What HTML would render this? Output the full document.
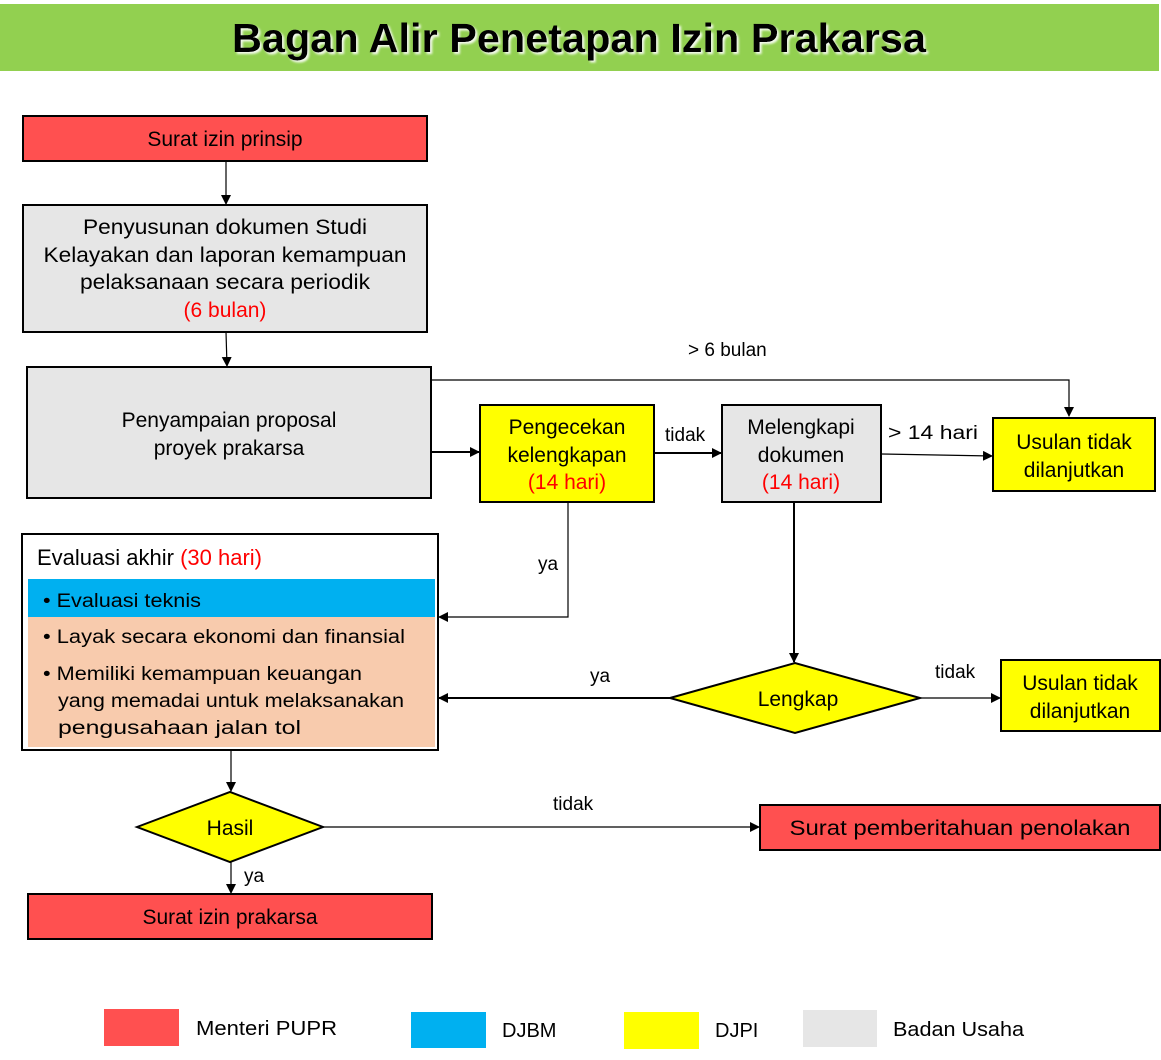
<!DOCTYPE html>
<html><head><meta charset="utf-8"><style>
body{margin:0;background:#fff;}
svg{display:block;font-family:"Liberation Sans",Arial,sans-serif;}
</style></head><body>
<svg width="1161" height="1060" viewBox="0 0 1161 1060" xmlns="http://www.w3.org/2000/svg">
<defs>
<marker id="a" markerWidth="10" markerHeight="10" refX="9" refY="5" orient="auto" markerUnits="userSpaceOnUse"><path d="M0,0 L10,5 L0,10 z" fill="#000"/></marker>
<filter id="sh"><feDropShadow dx="2" dy="2" stdDeviation="1" flood-color="#fff" flood-opacity="0.9"/></filter>
</defs>
<rect x="0" y="4" width="1159" height="67" fill="#92d050"/>
<text x="232" y="52" textLength="694" lengthAdjust="spacingAndGlyphs" font-size="41" font-weight="bold" fill="#000" filter="url(#sh)">Bagan Alir Penetapan Izin Prakarsa</text>

<g stroke="#000" stroke-width="2">
<rect x="23" y="116" width="404" height="45" fill="#ff5050"/>
<rect x="23" y="205" width="404" height="127" fill="#e6e6e6"/>
<rect x="27" y="367" width="404" height="131" fill="#e6e6e6"/>
<rect x="480" y="405" width="174" height="97" fill="#ffff00"/>
<rect x="722" y="405" width="159" height="97" fill="#e6e6e6"/>
<rect x="993" y="418" width="162" height="73" fill="#ffff00"/>
<rect x="22" y="534" width="416" height="216" fill="#fff"/>
<rect x="1001" y="660" width="159" height="71" fill="#ffff00"/>
<rect x="760" y="805" width="400" height="45" fill="#ff5050"/>
<rect x="28" y="894" width="404" height="45" fill="#ff5050"/>
<polygon points="670,698 795,663 920,698 795,733" fill="#ffff00"/>
<polygon points="137,827 230,792 323,827 230,862" fill="#ffff00"/>
</g>
<rect x="28" y="579" width="407" height="38" fill="#00b0f0"/>
<rect x="28" y="617" width="407" height="130" fill="#f8cbad"/>

<g stroke="#000" stroke-width="1.2" fill="none">
<line x1="226" y1="161" x2="226" y2="204" marker-end="url(#a)"/>
<line x1="226" y1="332" x2="227" y2="366" marker-end="url(#a)"/>
<polyline points="431,380 1069,380 1069,416" marker-end="url(#a)"/>
<line x1="431" y1="452" x2="479" y2="452" stroke-width="2" marker-end="url(#a)"/>
<line x1="654" y1="453" x2="721" y2="453" stroke-width="2" marker-end="url(#a)"/>
<line x1="881" y1="454" x2="992" y2="456" marker-end="url(#a)"/>
<polyline points="568,502 568,617 439,617" marker-end="url(#a)"/>
<line x1="794" y1="502" x2="794" y2="662" stroke-width="2" marker-end="url(#a)"/>
<line x1="670" y1="698" x2="439" y2="698" stroke-width="2" marker-end="url(#a)"/>
<line x1="920" y1="698" x2="1000" y2="698" marker-end="url(#a)"/>
<line x1="231" y1="750" x2="231" y2="791" marker-end="url(#a)"/>
<line x1="323" y1="827" x2="759" y2="827" marker-end="url(#a)"/>
<line x1="231" y1="862" x2="231" y2="893" marker-end="url(#a)"/>
</g>

<g font-size="21" fill="#000" text-anchor="middle">
<text x="225" y="146">Surat izin prinsip</text>
<text x="225" y="234" textLength="284" lengthAdjust="spacingAndGlyphs">Penyusunan dokumen Studi</text>
<text x="225" y="262" textLength="363" lengthAdjust="spacingAndGlyphs">Kelayakan dan laporan kemampuan</text>
<text x="225" y="289" textLength="290" lengthAdjust="spacingAndGlyphs">pelaksanaan secara periodik</text>
<text x="225" y="317" fill="#ff0000">(6 bulan)</text>
<text x="229" y="427">Penyampaian proposal</text>
<text x="229" y="455">proyek prakarsa</text>
<text x="567" y="434">Pengecekan</text>
<text x="567" y="462">kelengkapan</text>
<text x="567" y="489" fill="#ff0000">(14 hari)</text>
<text x="801" y="434">Melengkapi</text>
<text x="801" y="462">dokumen</text>
<text x="801" y="489" fill="#ff0000">(14 hari)</text>
<text x="1074" y="449">Usulan tidak</text>
<text x="1074" y="477">dilanjutkan</text>
<text x="1080" y="690">Usulan tidak</text>
<text x="1080" y="718">dilanjutkan</text>
<text x="798" y="706">Lengkap</text>
<text x="230" y="835">Hasil</text>
<text x="960" y="835" textLength="341" lengthAdjust="spacingAndGlyphs">Surat pemberitahuan penolakan</text>
<text x="230" y="924">Surat izin prakarsa</text>
</g>
<text x="37" y="565" font-size="22">Evaluasi akhir <tspan fill="#ff0000">(30 hari)</tspan></text>
<g font-size="19" fill="#000">
<text x="43" y="607" textLength="158" lengthAdjust="spacingAndGlyphs">• Evaluasi teknis</text>
<text x="43" y="643" textLength="362" lengthAdjust="spacingAndGlyphs">• Layak secara ekonomi dan finansial</text>
<text x="43" y="680" textLength="319" lengthAdjust="spacingAndGlyphs">• Memiliki kemampuan keuangan</text>
<text x="58" y="707" textLength="346" lengthAdjust="spacingAndGlyphs">yang memadai untuk melaksanakan</text>
<text x="58" y="734" textLength="243" lengthAdjust="spacingAndGlyphs">pengusahaan jalan tol</text>
</g>
<g font-size="19" fill="#000">
<text x="688" y="356">&gt; 6 bulan</text>
<text x="665" y="441">tidak</text>
<text x="888" y="439" textLength="90" lengthAdjust="spacingAndGlyphs">&gt; 14  hari</text>
<text x="538" y="570">ya</text>
<text x="590" y="682">ya</text>
<text x="935" y="678">tidak</text>
<text x="553" y="810">tidak</text>
<text x="244" y="882">ya</text>
</g>
<rect x="104" y="1009" width="75" height="37" fill="#ff5050"/>
<rect x="411" y="1012" width="75" height="36" fill="#00b0f0"/>
<rect x="624" y="1012" width="75" height="37" fill="#ffff00"/>
<rect x="803" y="1010" width="74" height="37" fill="#e6e6e6"/>
<g font-size="20" fill="#000">
<text x="196" y="1035" textLength="141" lengthAdjust="spacingAndGlyphs">Menteri PUPR</text>
<text x="502" y="1037">DJBM</text>
<text x="715" y="1037">DJPI</text>
<text x="893" y="1036" textLength="131" lengthAdjust="spacingAndGlyphs">Badan Usaha</text>
</g>
</svg>
</body></html>
